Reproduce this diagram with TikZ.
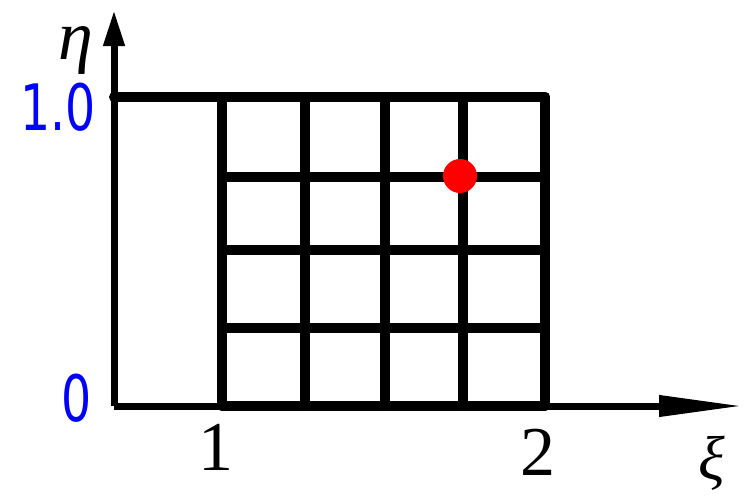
\documentclass[tikz,border=0pt]{standalone}
\usepackage{fontspec}
\newfontfamily\ticksans{DejaVu Sans}
\newfontfamily\tickserif{Liberation Serif}
\usetikzlibrary{arrows.meta}

\begin{document}
\begin{tikzpicture}[x=0.5pt,y=-0.5pt,
    gridline/.style={line width=5pt,line cap=round},
    axisline/.style={line width=3.5pt},
    etalabel/.style={text=blue,font=\ticksans\fontsize{32}{32}\selectfont,xscale=0.74,inner sep=0pt},
    xilabel/.style={font=\tickserif\fontsize{35}{35}\selectfont,inner sep=0pt}]
    \useasboundingbox (0,0) rectangle (756,498);
    % axes
    \coordinate (o) at (114,406);
    \coordinate (xend) at (743,406);
    \coordinate (yend) at (114,10);
    \draw[axisline,-{Triangle[length=42pt,width=10pt]}] (o) -- (xend);
    \draw[axisline,-{Triangle[length=18pt,width=10pt]}] (o) -- (yend);
    % grid
    \draw[gridline] (114,97) -- (545,97);
    \foreach \y in {177,250,328}
        \draw[gridline] (222,\y) -- (545,\y);
    \draw[gridline] (222,406) -- (545,406);
    \foreach \x in {222,305,385,463,545}
        \draw[gridline] (\x,97) -- (\x,406);
    % point
    \fill[red] (460,176) circle (8.5pt);
    % labels
    \node[etalabel] (one) at (58,107) {1.0};
    \node[etalabel] (zero) at (77,398) {0};
    \node[xilabel] (xione) at (216,447) {1};
    \node[xilabel] (xitwo) at (538,452) {2};
    \node[xilabel,font=\tickserif\fontsize{31}{31}\selectfont] (xi) at (712,463) {\itshape ξ};
    \node[xilabel] (eta) at (76,50) {\itshape η};
\end{tikzpicture}
\end{document}
